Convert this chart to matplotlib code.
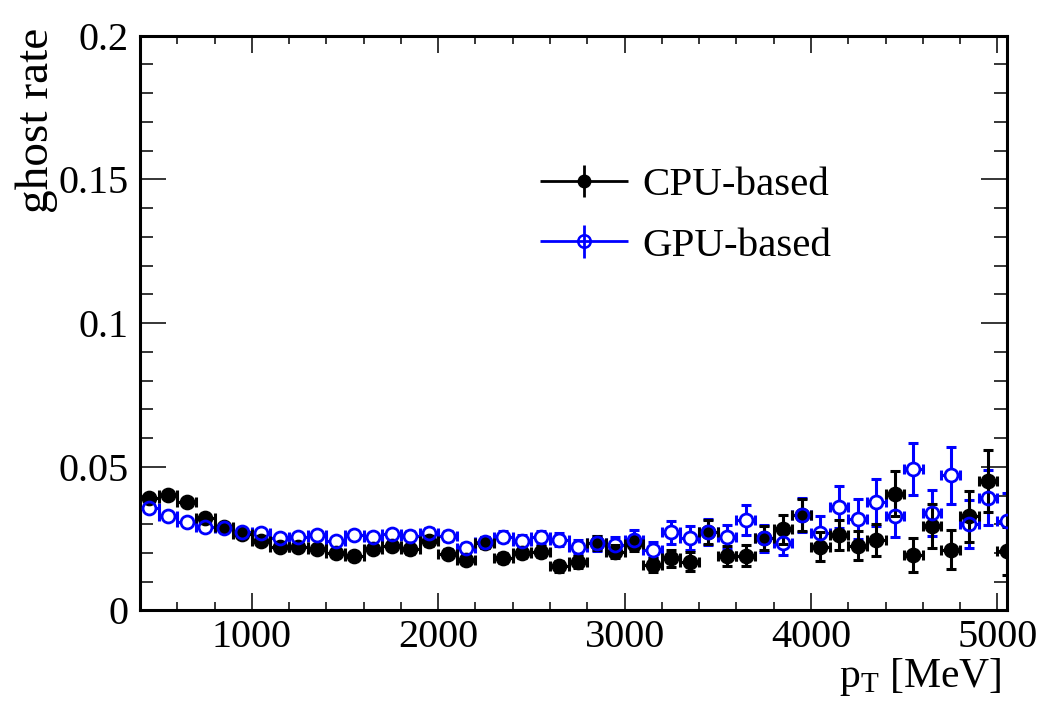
import numpy as np
import matplotlib
matplotlib.use('Agg')
import matplotlib.pyplot as plt
from matplotlib.ticker import MultipleLocator, FuncFormatter
from matplotlib.legend_handler import HandlerErrorbar
from matplotlib.container import ErrorbarContainer

# bin centres in MeV, 100 MeV wide bins
pt = np.arange(450, 5051, 100)
bin_half = 50

cpu_rate = [0.0391, 0.0402, 0.0377, 0.0321, 0.0290, 0.0267, 0.0240, 0.0222, 0.0220, 0.0214,
            0.0199, 0.0191, 0.0213, 0.0225, 0.0213, 0.0240, 0.0197, 0.0176, 0.0236, 0.0182,
            0.0201, 0.0205, 0.0154, 0.0170, 0.0234, 0.0205, 0.0232, 0.0158, 0.0182, 0.0170,
            0.0272, 0.0190, 0.0191, 0.0251, 0.0283, 0.0333, 0.0222, 0.0263, 0.0226, 0.0246,
            0.0406, 0.0193, 0.0294, 0.0211, 0.0327, 0.0452, 0.0207]
cpu_err = [0.0008, 0.0008, 0.0009, 0.0009, 0.0010, 0.0010, 0.0010, 0.0011, 0.0011, 0.0012,
           0.0012, 0.0013, 0.0014, 0.0015, 0.0015, 0.0016, 0.0016, 0.0016, 0.0018, 0.0018,
           0.0019, 0.0020, 0.0019, 0.0021, 0.0025, 0.0023, 0.0026, 0.0024, 0.0030, 0.0032,
           0.0042, 0.0035, 0.0036, 0.0042, 0.0050, 0.0055, 0.0050, 0.0052, 0.0050, 0.0056,
           0.0078, 0.0058, 0.0075, 0.0068, 0.0088, 0.0108, 0.0085]

gpu_rate = [0.0358, 0.0330, 0.0309, 0.0292, 0.0286, 0.0272, 0.0269, 0.0251, 0.0257, 0.0261,
            0.0243, 0.0264, 0.0257, 0.0265, 0.0260, 0.0269, 0.0260, 0.0217, 0.0237, 0.0257,
            0.0243, 0.0255, 0.0246, 0.0220, 0.0234, 0.0228, 0.0246, 0.0211, 0.0272, 0.0251,
            0.0272, 0.0257, 0.0315, 0.0251, 0.0234, 0.0333, 0.0269, 0.0360, 0.0318, 0.0376,
            0.0329, 0.0493, 0.0339, 0.0470, 0.0301, 0.0393, 0.0313]
gpu_err = [0.0008, 0.0008, 0.0009, 0.0009, 0.0010, 0.0010, 0.0011, 0.0011, 0.0012, 0.0012,
           0.0013, 0.0014, 0.0014, 0.0015, 0.0016, 0.0017, 0.0017, 0.0017, 0.0019, 0.0020,
           0.0021, 0.0022, 0.0023, 0.0024, 0.0026, 0.0027, 0.0033, 0.0028, 0.0039, 0.0042,
           0.0045, 0.0042, 0.0052, 0.0048, 0.0042, 0.0060, 0.0058, 0.0072, 0.0070, 0.0081,
           0.0072, 0.0090, 0.0080, 0.0099, 0.0085, 0.0097, 0.0095]

plt.rcParams['font.family'] = ['Liberation Serif', 'DejaVu Serif']
plt.rcParams['mathtext.fontset'] = 'custom'
plt.rcParams['mathtext.rm'] = 'Liberation Serif'

fig = plt.figure(figsize=(10.39, 7.15), dpi=100)
ax = fig.add_axes([0.1347, 0.1462, 0.8342, 0.8039])

ms = 10.3
bars = dict(xerr=bin_half, capsize=3.4, elinewidth=2.2, capthick=2.2)

# GPU bars, then a white disc so the open marker looks hollow like in ROOT
ax.errorbar(pt, gpu_rate, yerr=gpu_err, fmt='none', ecolor='blue', zorder=2, **bars)
ax.plot(pt, gpu_rate, 'o', ms=ms, mfc='white', mec='none', zorder=2.5)
# CPU on top of that
ax.errorbar(pt, cpu_rate, yerr=cpu_err, fmt='o', color='black', ms=ms, zorder=3, **bars)
# GPU ring last
ax.plot(pt, gpu_rate, 'o', ms=ms - 1, mfc='none', mec='blue', mew=2.0, zorder=4)

# legend proxies (no caps, like ROOT "lep")
h_cpu = ax.errorbar([np.nan], [np.nan], xerr=1, yerr=1, fmt='o', color='black', ms=9,
                    elinewidth=2.0, capsize=0, label='CPU-based')
h_gpu = ax.errorbar([np.nan], [np.nan], xerr=1, yerr=1, fmt='o', color='blue', mfc='none',
                    mew=1.8, ms=9, elinewidth=2.0, capsize=0, label='GPU-based')
ax.legend(handles=[h_cpu, h_gpu], loc='upper left', bbox_to_anchor=(0.4615, 0.772),
          frameon=False, fontsize=29.5, handlelength=2.15, handletextpad=0.35,
          labelspacing=0.55, borderpad=0, borderaxespad=0,
          handler_map={ErrorbarContainer: HandlerErrorbar(xerr_size=1.075, yerr_size=0.4)})

ax.set_xlim(400, 5050)
ax.set_ylim(0, 0.2)

ax.xaxis.set_major_locator(MultipleLocator(1000))
ax.xaxis.set_minor_locator(MultipleLocator(200))
ax.yaxis.set_major_locator(MultipleLocator(0.05))
ax.yaxis.set_minor_locator(MultipleLocator(0.01))
ax.yaxis.set_major_formatter(FuncFormatter(lambda v, p: '%g' % round(v, 3)))

ax.tick_params(which='both', direction='in', top=True, right=True, width=1.1, labelsize=29)
ax.tick_params(axis='x', which='major', length=12.2, pad=6.5)
ax.tick_params(axis='x', which='minor', length=6.1)
ax.tick_params(axis='y', which='major', length=18.7, pad=8)
ax.tick_params(axis='y', which='minor', length=9.4)
for s in ax.spines.values():
    s.set_linewidth(2.2)

ax.set_ylabel('ghost rate', fontsize=34, ha='right')
ax.yaxis.set_label_coords(-0.095, 1.013)
ax.set_xlabel(r'$\mathrm{p_{T}}$ [MeV]', fontsize=30, ha='right')
ax.xaxis.set_label_coords(0.994, -0.08)

fig.savefig('out.png', dpi=100)
